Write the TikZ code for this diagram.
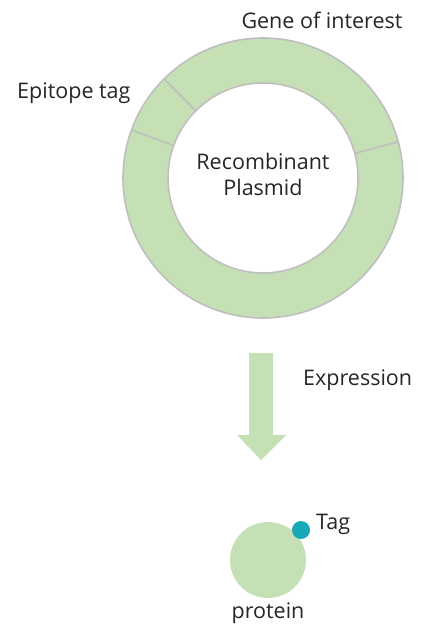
\documentclass[tikz,border=0pt]{standalone}
\usepackage{fontspec}
\setmainfont{Open Sans}
\usetikzlibrary{calc}
\begin{document}
\begin{tikzpicture}[x=1pt,y=-1pt,
  lbl/.style={inner sep=0pt,font=\fontsize{21.5}{26}\selectfont,text=black!85},
  ringline/.style={draw=pgrey,line width=1.6pt}
]
\definecolor{pgreen}{HTML}{C5E0B4}
\definecolor{pgrey}{HTML}{BFBFBF}
\definecolor{ptag}{HTML}{17A9B8}
\useasboundingbox (0,0) rectangle (422,628);
\coordinate (c) at (263,178);
% ring
\fill[pgreen,even odd rule] (c) circle[radius=140] (c) circle[radius=95];
\draw[ringline] (c) circle[radius=140];
\draw[ringline] (c) circle[radius=95];
\foreach \a in {-135,-160,-15}{
  \draw[ringline] ($(c)+(\a:95)$) -- ($(c)+(\a:140)$);
}
\node[lbl,align=center] (plasmid) at (263,174) {Recombinant\\Plasmid};
\node[lbl] (goi) at (322,20) {Gene of interest};
\node[lbl,anchor=west] (epi) at (17,93) {Epitope tag};
% arrow
\fill[pgreen] (249,353) -- (273,353) -- (273,435) -- (286,435) -- (261,460) -- (237,435) -- (249,435) -- cycle;
\node[lbl,anchor=west] (expr) at (303,380) {Expression};
% protein
\fill[pgreen] (268,560) circle[radius=38];
\fill[ptag] (301,530) circle[radius=9];
\node[lbl,anchor=west] (tag) at (316,524) {Tag};
\node[lbl] (prot) at (268,613) {protein};
\end{tikzpicture}
\end{document}
